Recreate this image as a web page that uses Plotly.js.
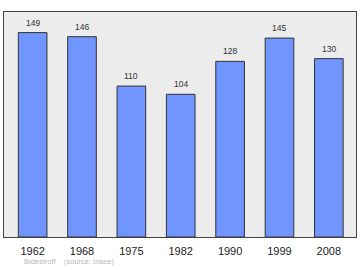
<!DOCTYPE html>
<html><head><meta charset="utf-8">
<script src="https://cdn.plot.ly/plotly-3.0.1.min.js"></script>
<style>html,body{margin:0;padding:0;background:#fff}#c{width:360px;height:270px}</style>
</head><body><div id="c"></div>
<script>
const years = ["1962","1968","1975","1982","1990","1999","2008"];
const population = [149,146,110,104,128,145,130];
const sourceText = "Bidestroff    (source: Insee)";

const trace = {
  type: 'bar', x: years, y: population,
  width: 0.58,
  marker: {color: '#7095ff', line: {color: '#333333', width: 1}},
  hoverinfo: 'none'
};
const annotations = years.map((yr, i) => ({
  x: i, y: population[i], xref: 'x', yref: 'y',
  text: String(population[i]), showarrow: false,
  yanchor: 'bottom', yshift: 3,
  font: {family: 'Liberation Sans, Arial, sans-serif', size: 8.5, color: '#333333'}
}));
annotations.push({
  xref: 'paper', yref: 'paper', x: 0.05, y: -0.11, xanchor: 'left', yanchor: 'middle',
  text: sourceText, showarrow: false,
  font: {family: 'Liberation Sans, Arial, sans-serif', size: 7.5, color: '#b8b8b8'}
});
const layout = {
  width: 360, height: 270,
  margin: {l: 4, r: 4, t: 12, b: 33},
  paper_bgcolor: '#ffffff', plot_bgcolor: '#ececec',
  showlegend: false,
  xaxis: {type: 'category', range: [-0.58, 6.55], showgrid: false, zeroline: false,
          showline: true, mirror: true, linecolor: '#444444', linewidth: 1,
          ticks: '', ticklabelstandoff: 4,
          tickfont: {family: 'Liberation Sans, Arial, sans-serif', size: 11, color: '#222222'}},
  yaxis: {range: [0, 164], showgrid: false, zeroline: false, showticklabels: false,
          showline: true, mirror: true, linecolor: '#444444', linewidth: 1, ticks: ''},
  annotations: annotations
};
Plotly.newPlot('c', [trace], layout, {staticPlot: true, displayModeBar: false});
</script></body></html>
